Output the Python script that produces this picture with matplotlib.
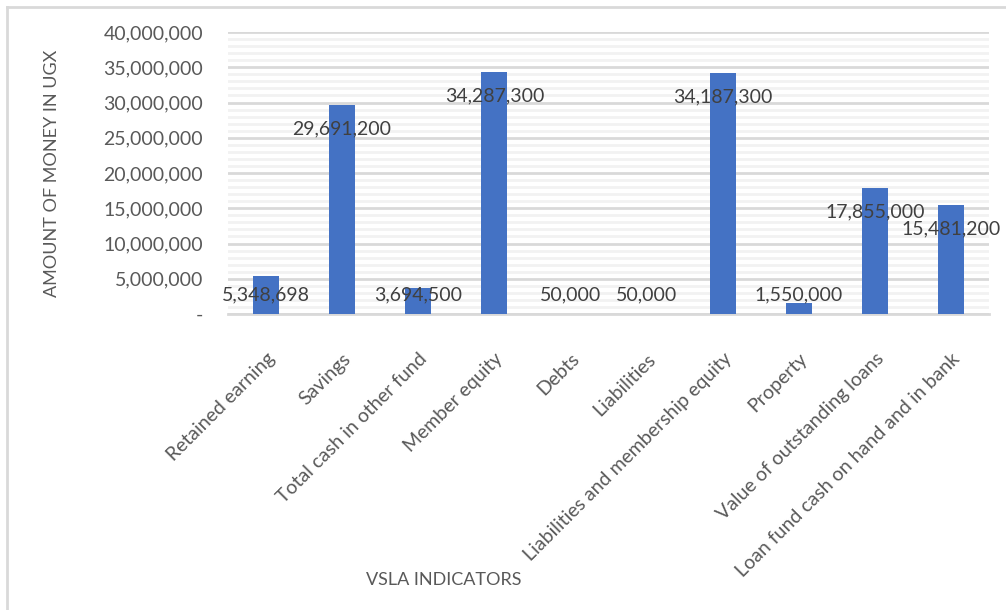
import numpy as np
import matplotlib
matplotlib.use('Agg')
import matplotlib.pyplot as plt
from matplotlib.ticker import MultipleLocator, FuncFormatter
from matplotlib.lines import Line2D

plt.rcParams['font.family'] = ['Lato', 'DejaVu Sans']

# data
indicators = ['Retained earning', 'Savings', 'Total cash in other fund', 'Member equity',
              'Debts', 'Liabilities', 'Liabilities and membership equity', 'Property',
              'Value of outstanding loans', 'Loan fund cash on hand and in bank']
amounts = [5348698, 29691200, 3694500, 34287300, 50000, 50000,
           34187300, 1550000, 17855000, 15481200]

bar_col = '#4472C4'
txt_col = '#595959'

fig = plt.figure(figsize=(10.06, 6.10), dpi=100)
ax = fig.add_axes([0.2266, 0.4852, 0.7565, 0.4623])

x = np.arange(len(indicators))
ax.bar(x, amounts, width=0.34, color=bar_col, zorder=3)

ax.set_xlim(-0.5, len(indicators) - 0.5)
ax.set_ylim(0, 40000000)

ax.yaxis.set_major_locator(MultipleLocator(5000000))
ax.yaxis.set_minor_locator(MultipleLocator(1000000))
ax.yaxis.set_major_formatter(FuncFormatter(lambda v, p: '-' if v == 0 else f'{int(v):,}'))
ax.grid(axis='y', which='major', color='#d9d9d9', linewidth=2.0, zorder=0)
ax.grid(axis='y', which='minor', color='#f2f2f2', linewidth=2.0, zorder=0)
ax.tick_params(axis='y', which='both', length=0, pad=18, labelsize=14, labelcolor=txt_col)

ax.set_xticks(x)
ax.set_xticklabels(indicators, rotation=45, ha='right', rotation_mode='anchor',
                   fontsize=14, color=txt_col)
ax.tick_params(axis='x', length=0, pad=26)

for s in ['top', 'right', 'left']:
    ax.spines[s].set_visible(False)
ax.spines['bottom'].set_color('#d9d9d9')
ax.spines['bottom'].set_linewidth(2.0)

# data labels (inside end, kept above the axis for short bars)
for xi, v in zip(x, amounts):
    ly = max(v - 3400000, 2700000)
    ax.text(xi, ly, f'{v:,}', ha='center', va='center', fontsize=14,
            color='#404040', zorder=4)

fig.text(0.052, 0.716, 'AMOUNT OF MONEY IN UGX', rotation=90, ha='center', va='center',
         fontsize=13, color=txt_col)
fig.text(0.441, 0.049, 'VSLA INDICATORS', ha='center', va='center',
         fontsize=13, color=txt_col)

# chart frame (only top and left edges visible)
fig.add_artist(Line2D([0.007, 0.007], [0, 0.989], color='#d9d9d9', linewidth=2,
                      transform=fig.transFigure))
fig.add_artist(Line2D([0.007, 1.0], [0.989, 0.989], color='#d9d9d9', linewidth=2,
                      transform=fig.transFigure))

fig.savefig('out.png', dpi=100)
